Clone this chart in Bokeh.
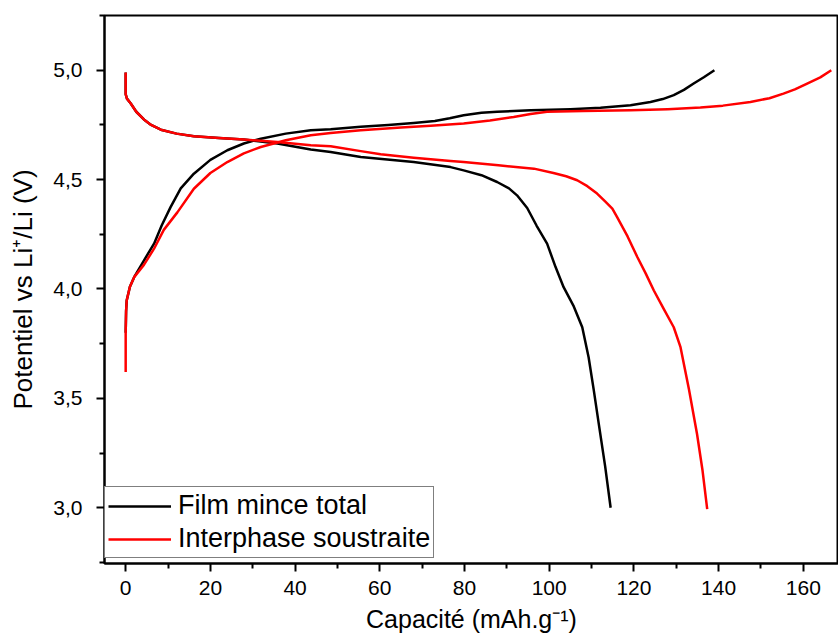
from bokeh.plotting import figure
from bokeh.models import Range1d, FixedTicker, CustomJSTickFormatter, Legend, LegendItem
from bokeh.embed import file_html
from bokeh.resources import INLINE

# Film mince total - discharge
film_dis_x = [0, 0, 0.3, 1.2, 2.5, 4.3, 6.0, 8.3, 12.0, 16.1, 22.0, 27.9, 35.8, 43.7, 48.4, 55.5, 68, 76.7, 79.8, 84.0, 87.7, 90.5, 92.4, 94.8, 97.0, 99.5, 101.5, 103.4, 105.8, 107.8, 109.3, 110.5, 111.7, 113.2, 114.5]
film_dis_y = [4.99, 4.89, 4.87, 4.848, 4.81, 4.775, 4.75, 4.728, 4.71, 4.698, 4.69, 4.683, 4.665, 4.637, 4.626, 4.603, 4.58, 4.557, 4.542, 4.52, 4.489, 4.46, 4.428, 4.37, 4.29, 4.207, 4.10, 4.008, 3.92, 3.825, 3.688, 3.54, 3.383, 3.19, 3.0]
# Film mince total - charge
film_ch_x = [0, 0.1, 0.24, 1.0, 2.0, 4.3, 6.7, 8.5, 10.6, 13.0, 16.1, 20.0, 24.0, 27.9, 31.9, 37.8, 43.7, 48.4, 55.5, 62.0, 68, 73.0, 76.5, 79.8, 84.0, 87.7, 95.6, 105.0, 112.1, 119.2, 123.9, 126.8, 129.4, 131.8, 134.1, 136.5, 139.0]
film_ch_y = [3.80, 3.90, 3.947, 4.01, 4.054, 4.13, 4.207, 4.29, 4.374, 4.46, 4.527, 4.59, 4.634, 4.665, 4.687, 4.71, 4.725, 4.73, 4.741, 4.75, 4.759, 4.768, 4.78, 4.794, 4.805, 4.81, 4.817, 4.822, 4.828, 4.84, 4.855, 4.868, 4.886, 4.91, 4.939, 4.968, 5.0]
# Interphase soustraite - discharge
inter_dis_x = [0, 0, 0.3, 1.2, 2.5, 4.3, 6.0, 8.3, 12.0, 16.1, 22.0, 27.9, 35.8, 43.7, 48.4, 55.5, 60.2, 68.0, 76.7, 79.8, 88.0, 96.4, 101.0, 104.0, 106.6, 109.0, 111.3, 113.2, 114.9, 116.0, 118.5, 120.8, 122.8, 124.7, 127.0, 129.4, 131.0, 133.0, 134.9, 136.2, 137.3]
inter_dis_y = [4.99, 4.89, 4.87, 4.848, 4.81, 4.775, 4.75, 4.728, 4.71, 4.698, 4.69, 4.683, 4.672, 4.657, 4.652, 4.63, 4.616, 4.60, 4.585, 4.58, 4.565, 4.55, 4.53, 4.515, 4.497, 4.47, 4.436, 4.40, 4.367, 4.329, 4.24, 4.146, 4.07, 3.993, 3.91, 3.825, 3.734, 3.54, 3.337, 3.17, 2.994]
# Interphase soustraite - charge
inter_ch_x = [0, 0, 0.1, 0.24, 1.0, 2.0, 4.3, 6.7, 9.0, 12.2, 16.1, 20.0, 24.0, 27.9, 31.9, 37.8, 43.7, 48.4, 55.5, 65.0, 72.0, 79.8, 86.0, 91.6, 95.6, 99.5, 108.0, 119.2, 128.0, 135.7, 141.0, 147.5, 152.0, 155.3, 158.0, 160.9, 164.0, 166.6]
inter_ch_y = [3.62, 3.80, 3.90, 3.947, 4.01, 4.054, 4.11, 4.184, 4.27, 4.35, 4.458, 4.53, 4.58, 4.62, 4.649, 4.68, 4.703, 4.713, 4.725, 4.738, 4.746, 4.756, 4.77, 4.786, 4.80, 4.81, 4.814, 4.817, 4.822, 4.829, 4.838, 4.855, 4.872, 4.893, 4.912, 4.939, 4.967, 5.0]

y_ticks = [3.0, 3.5, 4.0, 4.5, 5.0]
x_ticks = [0, 20, 40, 60, 80, 100, 120, 140, 160]

FONT = "Liberation Sans"

p = figure(width=838, height=644, output_backend="svg", toolbar_location=None,
           x_range=Range1d(-5, 168.3), y_range=Range1d(2.745, 5.25),
           min_border_left=104, min_border_right=0, min_border_top=15, min_border_bottom=81)
p.xgrid.visible = False
p.ygrid.visible = False
p.outline_line_color = "black"
p.outline_line_width = 2
p.background_fill_color = "white"
p.border_fill_color = "white"

r1 = p.line(film_dis_x, film_dis_y, line_color="black", line_width=2.5, line_join="round")
p.line(film_ch_x, film_ch_y, line_color="black", line_width=2.5, line_join="round")
r2 = p.line(inter_dis_x, inter_dis_y, line_color="red", line_width=2.5, line_join="round")
p.line(inter_ch_x, inter_ch_y, line_color="red", line_width=2.5, line_join="round")

for ax in (p.xaxis[0], p.yaxis[0]):
    ax.axis_line_width = 2
    ax.axis_line_color = "black"
    ax.major_tick_line_width = 2
    ax.minor_tick_line_width = 2
    ax.major_tick_in = 0
    ax.major_tick_out = 8
    ax.minor_tick_in = 0
    ax.minor_tick_out = 5
    ax.major_label_text_font = FONT
    ax.major_label_text_font_size = "21px"
    ax.major_label_text_color = "black"
    ax.axis_label_text_font = FONT
    ax.axis_label_text_font_style = "normal"
    ax.axis_label_text_color = "black"

p.xaxis[0].ticker = FixedTicker(ticks=x_ticks, minor_ticks=[-10, 10, 30, 50, 70, 90, 110, 130, 150, 170])
p.yaxis[0].ticker = FixedTicker(ticks=y_ticks, minor_ticks=[2.75, 3.25, 3.75, 4.25, 4.75, 5.25])
p.yaxis[0].formatter = CustomJSTickFormatter(code="return tick.toFixed(1).replace('.', ',');")
p.xaxis[0].axis_label = "Capacité (mAh.g⁻¹)"
p.yaxis[0].axis_label = "Potentiel vs Li⁺/Li (V)"
p.xaxis[0].axis_label_text_font_size = "25px"
p.yaxis[0].axis_label_text_font_size = "26px"
p.xaxis[0].major_label_standoff = 9
p.yaxis[0].major_label_standoff = 14
p.xaxis[0].axis_label_standoff = 7
p.yaxis[0].axis_label_standoff = 12

legend = Legend(items=[LegendItem(label="Film mince total", renderers=[r1]),
                       LegendItem(label="Interphase soustraite", renderers=[r2])],
                location=(0, 5))
legend.label_text_font = FONT
legend.label_text_font_size = "27px"
legend.label_text_color = "black"
legend.glyph_width = 63
legend.glyph_height = 26
legend.label_height = 26
legend.label_standoff = 7
legend.spacing = 2
legend.padding = 3
legend.margin = 0
legend.border_line_color = "black"
legend.border_line_width = 1
legend.background_fill_alpha = 1
p.add_layout(legend, "center")

open("out.html", "w").write(file_html(p, INLINE))
